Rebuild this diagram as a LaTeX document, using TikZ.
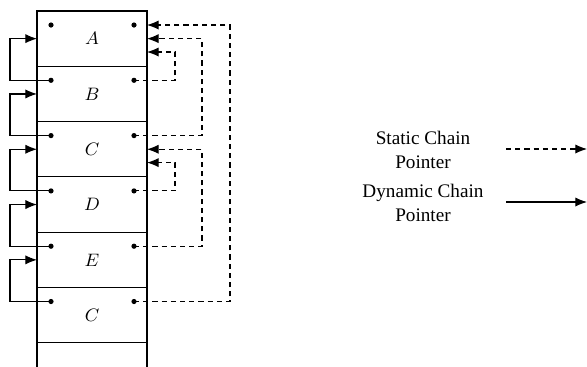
\documentclass[tikz,border=0pt]{standalone}
\usepackage{fontspec}
\newfontfamily\legendfont{Liberation Serif}
\usepackage{tikz}
\usetikzlibrary{arrows.meta}
\tikzstyle{frame} = [rectangle, draw=black, minimum width=55pt, minimum height=27.65pt, inner sep=0pt, outer sep=0pt, font=\fontsize{9}{10}\selectfont]
\tikzstyle{dot} = [circle, fill=black, inner sep=0pt, minimum size=2.6pt]
\tikzstyle{dyn} = [-{Latex[length=5.8pt,width=4.6pt]}]
\tikzstyle{stat} = [-{Latex[length=5.8pt,width=4.6pt]}, dash pattern=on 2.6pt off 2pt]
\tikzstyle{legend} = [align=center, font=\legendfont\fontsize{9.6}{12}\selectfont]

\begin{document}
\begin{tikzpicture}[x=0.5pt, y=-0.5pt, node distance=27.65pt, line width=0.55pt]
\useasboundingbox (0,0) rectangle (587,366);
% activation record stack
\node (A) [frame] at (92,38.65) {$A$};
\node (B) [frame, below of=A] {$B$};
\node (C) [frame, below of=B] {$C$};
\node (D) [frame, below of=C] {$D$};
\node (E) [frame, below of=D] {$E$};
\node (C2) [frame, below of=E] {$C$};
\draw (C2.south west) -- ++(0,30);
\draw (C2.south east) -- ++(0,30);
\foreach \f in {A,B,C,D,E,C2} {
  \node (\f-l) [dot] at ([shift={(14,14)}]\f.north west) {};
  \node (\f-r) [dot] at ([shift={(-13,14)}]\f.north east) {};
}
\coordinate (A-top) at ([shift={(0,14)}]A.north east);
\coordinate (A-low) at ([shift={(0,41)}]A.north east);
\coordinate (C-low) at ([shift={(0,41)}]C.north east);
% dynamic links
\foreach \f/\g in {B/A, C/B, D/C, E/D, C2/E}
  \draw [dyn] (\f-l.center) -- ++(-41,0) |- (\g.west);
% static links
\draw [stat] (B-r.center) -- ++(41,0) |- (A-low);
\draw [stat] (C-r.center) -- ++(68,0) |- (A.east);
\draw [stat] (D-r.center) -- ++(41,0) |- (C-low);
\draw [stat] (E-r.center) -- ++(68,0) |- (C.east);
\draw [stat] (C2-r.center) -- ++(96,0) |- (A-top);
% legend
\node (sleg) [legend] at (423,150) {Static Chain\\Pointer};
\node (dleg) [legend] at (423,203) {Dynamic Chain\\Pointer};
\coordinate (s-start) at (506,149);
\coordinate (s-end) at (587,149);
\coordinate (d-start) at (506,202);
\coordinate (d-end) at (587,202);
\draw [stat] (s-start) -- (s-end);
\draw [dyn] (d-start) -- (d-end);
\end{tikzpicture}
\end{document}
